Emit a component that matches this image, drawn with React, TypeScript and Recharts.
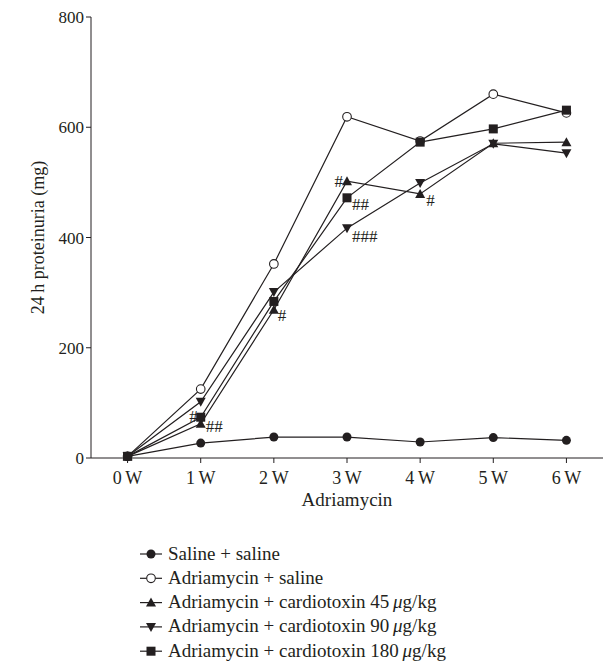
import { CartesianGrid, LabelList, Line, LineChart, XAxis, YAxis } from "recharts";

const weeks = [0, 1, 2, 3, 4, 5, 6];
const weekLabels = ["0\u2009W", "1\u2009W", "2\u2009W", "3\u2009W", "4\u2009W", "5\u2009W", "6\u2009W"];
const yTicks = [0, 200, 400, 600, 800];

const salineSaline = [3, 27, 38, 38, 29, 37, 32];
const adrSaline = [3, 125, 352, 619, 575, 660, 626];
const adrCtx45 = [3, 62, 269, 502, 479, 571, 573];
const adrCtx90 = [3, 102, 301, 417, 499, 570, 553];
const adrCtx180 = [3, 74, 284, 472, 573, 597, 631];

const ann45 = ["", "##", "#", "#", "#", "", ""];
const ann90 = ["", "", "", "###", "", "", ""];
const ann180 = ["", "#", "", "##", "", "", ""];

const legendNames = [
  "Saline + saline",
  "Adriamycin + saline",
  "Adriamycin + cardiotoxin 45",
  "Adriamycin + cardiotoxin 90",
  "Adriamycin + cardiotoxin 180",
];

const INK = "#231f20";
const FONT = "'Liberation Serif', 'DejaVu Serif', serif";

type Shape = "circle" | "open" | "up" | "down" | "square";

const Marker = ({ cx, cy, shape }: { cx: number; cy: number; shape: Shape }) => {
  if (cx == null || cy == null) return null;
  if (shape === "circle") return <circle cx={cx} cy={cy} r={4.5} fill={INK} />;
  if (shape === "open") return <circle cx={cx} cy={cy} r={4.3} fill="#fff" stroke={INK} strokeWidth={1.1} />;
  if (shape === "square") return <rect x={cx - 4.5} y={cy - 4.5} width={9} height={9} fill={INK} />;
  if (shape === "up")
    return <path d={`M${cx},${cy - 5} L${cx + 5},${cy + 4} L${cx - 5},${cy + 4} Z`} fill={INK} />;
  return <path d={`M${cx},${cy + 5} L${cx + 5},${cy - 4} L${cx - 5},${cy - 4} Z`} fill={INK} />;
};

const data = weeks.map((w, i) => ({
  week: w,
  s: salineSaline[i],
  a: adrSaline[i],
  c45: adrCtx45[i],
  c90: adrCtx90[i],
  c180: adrCtx180[i],
}));

// which side of the point each mark sits on
const annSide: Record<string, { dx: number; dy: number; anchor: "start" | "end" }> = {
  "c45-1": { dx: 5, dy: 8, anchor: "start" },
  "c45-2": { dx: 4, dy: 11, anchor: "start" },
  "c45-3": { dx: -4, dy: 6, anchor: "end" },
  "c45-4": { dx: 6, dy: 12, anchor: "start" },
  "c90-3": { dx: 5, dy: 14, anchor: "start" },
  "c180-1": { dx: -3, dy: 5, anchor: "end" },
  "c180-3": { dx: 5, dy: 12, anchor: "start" },
};

const makeAnn = (key: string, texts: string[]) => (props: any) => {
  const { x, y, index } = props;
  const t = texts[index];
  if (!t) return null;
  const p = annSide[`${key}-${index}`] || { dx: 5, dy: 10, anchor: "start" };
  return (
    <text x={x + p.dx} y={y + p.dy} textAnchor={p.anchor} fontSize={17} fontFamily={FONT} fill={INK}>
      {t}
    </text>
  );
};

const series: { key: string; shape: Shape; ann?: string[] }[] = [
  { key: "s", shape: "circle" },
  { key: "a", shape: "open" },
  { key: "c45", shape: "up", ann: ann45 },
  { key: "c90", shape: "down", ann: ann90 },
  { key: "c180", shape: "square", ann: ann180 },
];

const Legend = () => (
  <svg width={616} height={140} style={{ position: "absolute", left: 0, top: 535 }}>
    {series.map((s, i) => {
      const y = 19 + i * 24.3;
      return (
        <g key={s.key}>
          <line x1={140} x2={162} y1={y} y2={y} stroke={INK} strokeWidth={1.2} />
          <Marker cx={151} cy={y} shape={s.shape} />
          <text x={168} y={y + 5.5} fontSize={19} fontFamily={FONT} fill={INK}>
            {legendNames[i]}
            {i >= 2 && (
              <>
                {"\u2009"}
                <tspan fontStyle="italic">μ</tspan>
                {"g/kg"}
              </>
            )}
          </text>
        </g>
      );
    })}
  </svg>
);

export default function App() {
  return (
    <div style={{ position: "absolute", left: 0, top: 0, width: 616, height: 671, background: "#fff" }}>
      <LineChart width={616} height={530} data={data} margin={{ top: 17, right: 13, left: 0, bottom: 0 }}>
        <CartesianGrid stroke="none" />
        <XAxis
          dataKey="week"
          type="number"
          domain={[-0.5, 6.5]}
          ticks={weeks}
          tickFormatter={(v: number) => weekLabels[v]}
          height={72}
          stroke={INK}
          tickSize={5}
          tick={{ fill: INK, fontSize: 18, fontFamily: FONT, dy: 6 }}
          label={{ value: "Adriamycin", position: "insideBottom", offset: 24, fill: INK, fontSize: 19, fontFamily: FONT }}
        />
        <YAxis
          domain={[0, 800]}
          ticks={yTicks}
          width={91}
          stroke={INK}
          tickSize={5}
          tick={{ fill: INK, fontSize: 17, fontFamily: FONT }}
          label={{
            value: "24\u2009h proteinuria (mg)",
            angle: -90,
            position: "insideLeft",
            offset: 38,
            style: { textAnchor: "middle" },
            fill: INK,
            fontSize: 18,
            fontFamily: FONT,
          }}
        />
        {series.map((s) => (
          <Line
            key={s.key}
            dataKey={s.key}
            stroke={INK}
            strokeWidth={1.2}
            isAnimationActive={false}
            dot={(p: any) => <Marker key={`${s.key}-${p.index}`} cx={p.cx} cy={p.cy} shape={s.shape} />}
            activeDot={false}
          >
            {s.ann && <LabelList dataKey={s.key} content={makeAnn(s.key, s.ann)} />}
          </Line>
        ))}
      </LineChart>
      <Legend />
    </div>
  );
}
